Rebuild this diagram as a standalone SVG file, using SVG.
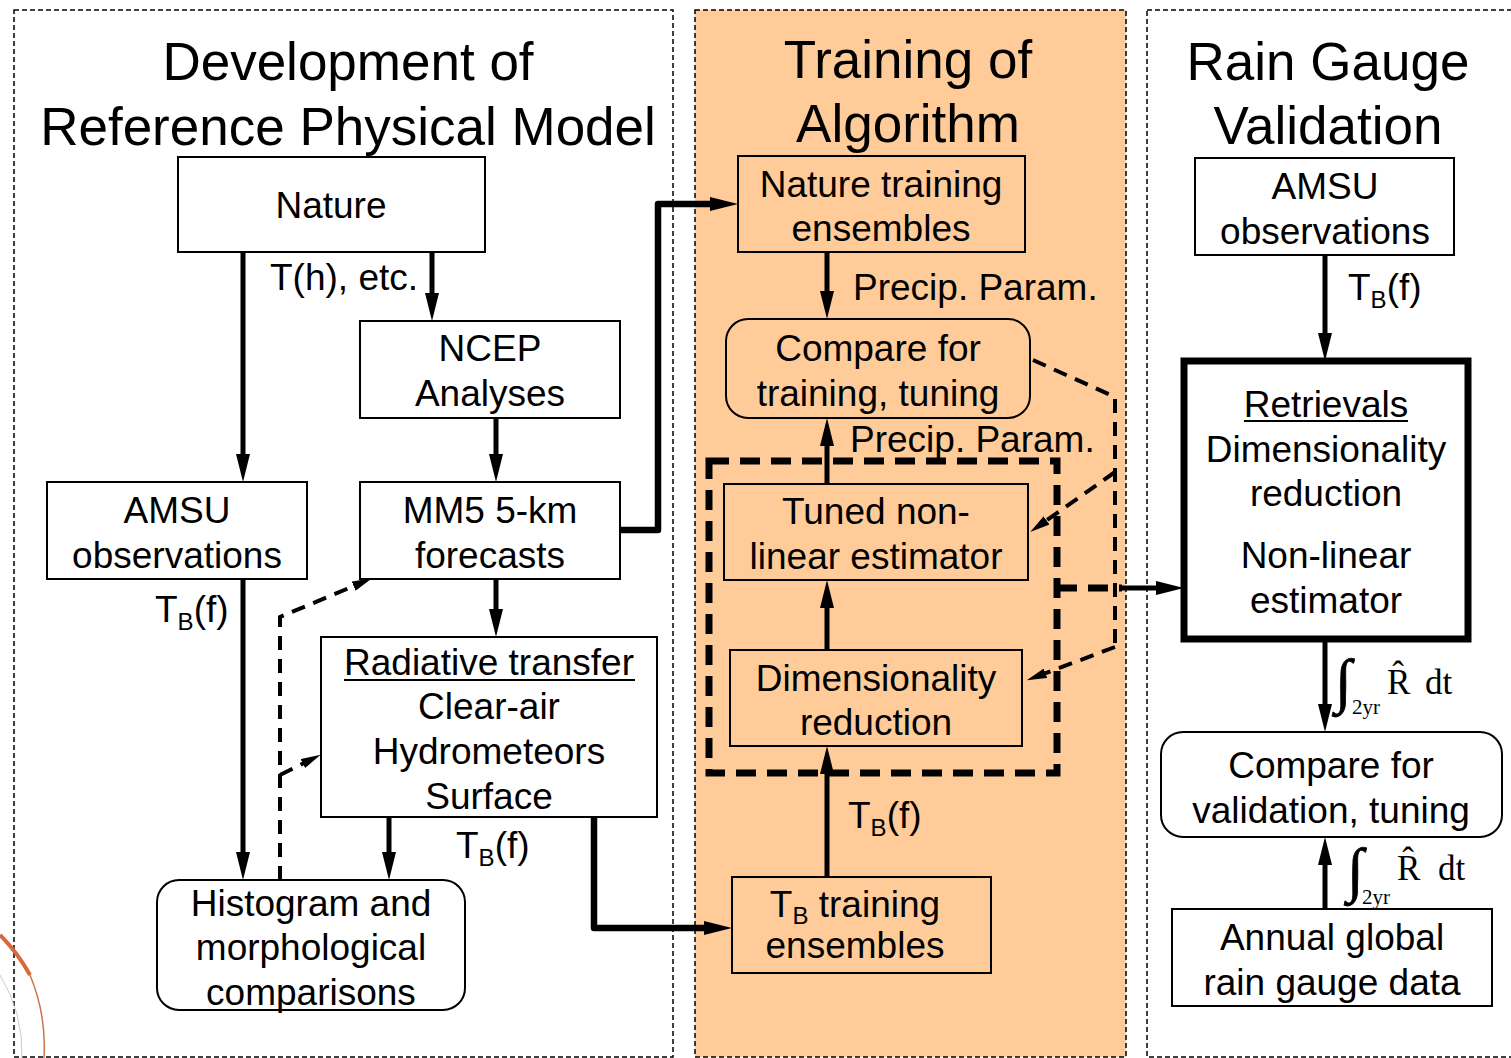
<svg xmlns="http://www.w3.org/2000/svg" width="1511" height="1058" viewBox="0 0 1511 1058">
<style>
.panel{fill:none;stroke:#000;stroke-width:1.5;stroke-dasharray:5 3}
.box{fill:#fff;stroke:#000;stroke-width:2}
.obox{fill:#FFCC99;stroke:#000;stroke-width:2}
.t{font-family:"Liberation Sans",Arial,sans-serif;font-size:37px;text-anchor:middle;fill:#000}
.ti{font-family:"Liberation Sans",Arial,sans-serif;font-size:53px;text-anchor:middle;fill:#000}
.lbl{font-family:"Liberation Sans",Arial,sans-serif;font-size:37px;fill:#000}
.ser{font-family:"Liberation Serif","Times New Roman",serif;fill:#000}
.int{font-family:"Liberation Serif","Times New Roman",serif;fill:#000;stroke:#000;stroke-width:0.8}
.c{fill:none;stroke:#000;stroke-width:5;marker-end:url(#ah)}
.cw{fill:none;stroke:#000;stroke-width:6.5;marker-end:url(#ah)}
.d{fill:none;stroke:#000;stroke-width:4;stroke-dasharray:14 9}
.da{fill:none;stroke:#000;stroke-width:4;stroke-dasharray:14 9;marker-end:url(#ahs)}
</style>
<defs>
<marker id="ah" viewBox="0 0 28 14" refX="10" refY="7" markerWidth="28" markerHeight="14" markerUnits="userSpaceOnUse" orient="auto"><path d="M0,0 L28,7 L0,14 z" fill="#000"/></marker>
<marker id="ahs" viewBox="0 0 20 10" refX="8" refY="5" markerWidth="20" markerHeight="10" markerUnits="userSpaceOnUse" orient="auto"><path d="M0,0 L20,5 L0,10 z" fill="#000"/></marker>
</defs>
<rect width="1511" height="1058" fill="#fff"/>
<!-- panels -->
<rect x="695" y="10" width="431" height="1047" fill="#FFCC99"/>
<rect class="panel" x="14" y="10" width="659" height="1047"/>
<rect class="panel" x="695" y="10" width="431" height="1047"/>
<rect class="panel" x="1147" y="10" width="380" height="1047"/>
<!-- decorative arc -->
<path d="M0,935 A187,187 0 0 1 30,975" fill="none" stroke="#D9693A" stroke-width="4"/>
<path d="M30,975 A187,187 0 0 1 44,1058" fill="none" stroke="#C8754E" stroke-width="1.5"/>
<path d="M0,975 A150,150 0 0 1 22,1058" fill="none" stroke="#ccc" stroke-width="1"/>
<!-- titles -->
<g id="title-left"><text class="ti" x="348" y="80">Development of</text><text class="ti" x="348" y="145">Reference Physical Model</text></g>
<g id="title-mid"><text class="ti" x="908" y="78">Training of</text><text class="ti" x="908" y="142">Algorithm</text></g>
<g id="title-right"><text class="ti" x="1328" y="80">Rain Gauge</text><text class="ti" x="1328" y="144">Validation</text></g>
<!-- thick dashed group box -->
<rect id="estimator-group" x="709" y="461" width="348" height="312" fill="none" stroke="#000" stroke-width="7" stroke-dasharray="20 11"/>
<!-- nodes -->
<g id="nature"><rect class="box" x="178" y="157" width="307" height="95"/><text class="t" x="331" y="218">Nature</text></g>
<g id="ncep"><rect class="box" x="360" y="321" width="260" height="97"/><text class="t" x="490" y="361">NCEP</text><text class="t" x="490" y="406">Analyses</text></g>
<g id="amsu-left"><rect class="box" x="47" y="482" width="260" height="97"/><text class="t" x="177" y="523">AMSU</text><text class="t" x="177" y="568">observations</text></g>
<g id="mm5"><rect class="box" x="360" y="482" width="260" height="97"/><text class="t" x="490" y="523">MM5 5-km</text><text class="t" x="490" y="568">forecasts</text></g>
<g id="radiative"><rect class="box" x="321" y="637" width="336" height="180"/><text class="t" x="489" y="675">Radiative transfer</text><line x1="344" y1="680" x2="635" y2="680" stroke="#000" stroke-width="2"/><text class="t" x="489" y="719">Clear-air</text><text class="t" x="489" y="764">Hydrometeors</text><text class="t" x="489" y="809">Surface</text></g>
<g id="histogram"><rect class="box" x="157" y="880" width="308" height="130" rx="22"/><text class="t" x="311" y="916">Histogram and</text><text class="t" x="311" y="960">morphological</text><text class="t" x="311" y="1005">comparisons</text></g>
<g id="nature-training"><rect class="obox" x="738" y="156" width="287" height="96"/><text class="t" x="881" y="197">Nature training</text><text class="t" x="881" y="241">ensembles</text></g>
<g id="compare-training"><rect class="obox" x="726" y="319" width="304" height="99" rx="22"/><text class="t" x="878" y="361">Compare for</text><text class="t" x="878" y="406">training, tuning</text></g>
<g id="tuned"><rect class="obox" x="724" y="484" width="304" height="96"/><text class="t" x="876" y="524">Tuned non-</text><text class="t" x="876" y="569">linear estimator</text></g>
<g id="dimred"><rect class="obox" x="730" y="650" width="292" height="96"/><text class="t" x="876" y="691">Dimensionality</text><text class="t" x="876" y="735">reduction</text></g>
<g id="tb-training"><rect class="obox" x="732" y="877" width="259" height="96"/><text class="t" x="855" y="917">T<tspan font-size="24" dy="7">B</tspan><tspan dy="-7"> training</tspan></text><text class="t" x="855" y="958">ensembles</text></g>
<g id="amsu-right"><rect class="box" x="1195" y="158" width="259" height="97"/><text class="t" x="1325" y="199">AMSU</text><text class="t" x="1325" y="244">observations</text></g>
<g id="retrievals"><rect x="1184" y="361" width="284" height="278" fill="#fff" stroke="#000" stroke-width="7"/><text class="t" x="1326" y="417">Retrievals</text><line x1="1244" y1="421" x2="1408" y2="421" stroke="#000" stroke-width="2"/><text class="t" x="1326" y="462">Dimensionality</text><text class="t" x="1326" y="506">reduction</text><text class="t" x="1326" y="568">Non-linear</text><text class="t" x="1326" y="613">estimator</text></g>
<g id="compare-validation"><rect class="box" x="1161" y="732" width="341" height="105" rx="22"/><text class="t" x="1331" y="778">Compare for</text><text class="t" x="1331" y="823">validation, tuning</text></g>
<g id="raingauge"><rect class="box" x="1172" y="909" width="320" height="97"/><text class="t" x="1332" y="950">Annual global</text><text class="t" x="1332" y="995">rain gauge data</text></g>
<!-- connectors -->
<g id="connectors">
<path class="c" d="M243,252 V464"/>
<path class="c" d="M432,252 V303"/>
<path class="c" d="M496,418 V464"/>
<path class="c" d="M496,579 V619"/>
<path class="c" d="M243,579 V862"/>
<path class="c" d="M389,817 V862"/>
<path class="cw" d="M594,817 V928 H714" stroke-linejoin="round"/>
<path class="cw" d="M620,530 H658 V204 H720" stroke-linejoin="round"/>
<path class="c" d="M827,252 V301"/>
<path class="c" d="M827,484 V436"/>
<path class="c" d="M827,650 V598"/>
<path class="c" d="M827,877 V764"/>
<path class="c" d="M1325,255 V343"/>
<path class="c" d="M1325,639 V714"/>
<path class="c" d="M1325,909 V855"/>
<path d="M1057,588 H1122" fill="none" stroke="#000" stroke-width="7" stroke-dasharray="20 11"/>
<path class="c" d="M1120,588 H1166"/>
<path class="da" d="M280,880 V617 L361,583"/>
<path class="da" d="M280,775 L310,760"/>
<path class="d" d="M1033,360 L1115,397 V647"/>
<path class="da" d="M1115,647 L1038,676"/>
<path class="da" d="M1115,472 L1040,525"/>
</g>
<!-- labels -->
<g id="labels">
<text class="lbl" x="270" y="290">T(h), etc.</text>
<text class="lbl" x="155" y="622">T<tspan font-size="24" dy="8">B</tspan><tspan dy="-8">(f)</tspan></text>
<text class="lbl" x="456" y="858">T<tspan font-size="24" dy="8">B</tspan><tspan dy="-8">(f)</tspan></text>
<text class="lbl" x="853" y="300">Precip. Param.</text>
<text class="lbl" x="850" y="452">Precip. Param.</text>
<text class="lbl" x="848" y="828">T<tspan font-size="24" dy="8">B</tspan><tspan dy="-8">(f)</tspan></text>
<text class="lbl" x="1348" y="300">T<tspan font-size="24" dy="8">B</tspan><tspan dy="-8">(f)</tspan></text>
<text class="int" x="1335" y="701" font-size="60">∫</text>
<text class="ser" x="1352" y="714" font-size="21">2yr</text>
<text class="ser" x="1387" y="694" font-size="35">R<tspan dx="-18" dy="-8">ˆ</tspan></text>
<text class="ser" x="1425" y="694" font-size="35">dt</text>
<text class="int" x="1347" y="890" font-size="60">∫</text>
<text class="ser" x="1362" y="904" font-size="21">2yr</text>
<text class="ser" x="1397" y="880" font-size="35">R<tspan dx="-18" dy="-8">ˆ</tspan></text>
<text class="ser" x="1438" y="880" font-size="35">dt</text>
</g>
</svg>
